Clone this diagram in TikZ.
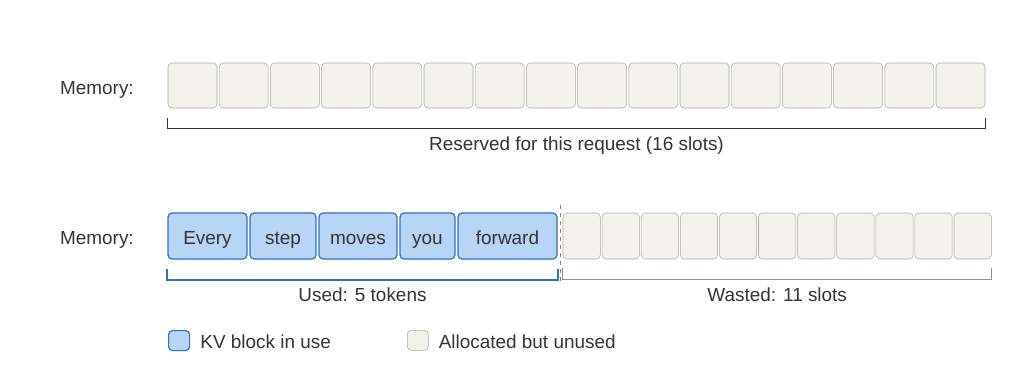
\documentclass[tikz,border=0pt]{standalone}
\usepackage{fontspec}
\setmainfont{Liberation Sans}
\usetikzlibrary{calc}
\definecolor{slotfill}{HTML}{F3F2EC}
\definecolor{slotline}{HTML}{A9A9A5}
\definecolor{usedfill}{HTML}{B8D5F5}
\definecolor{usedline}{HTML}{2F72C0}
\definecolor{inktext}{HTML}{333333}
\tikzset{
  slot/.style={draw=slotline, fill=slotfill, rounded corners=3pt, inner sep=0pt},
  tokbox/.style={draw=usedline, fill=usedfill, rounded corners=3pt, inner sep=0pt,
    line width=0.9pt},
  lbl/.style={text=inktext, font=\fontsize{14.2}{17}\selectfont, inner sep=0pt,
    text height=0.74em, text depth=0.16em},
  bracket/.style={line width=1.1pt}
}
\begin{document}
\begin{tikzpicture}[x=0.75pt, y=-0.75pt]
  \useasboundingbox (0,0) rectangle (1024,368);
  % first row: the reserved slots
  \node[lbl, anchor=east] (mem1) at (134,91) {Memory:};
  \foreach \i in {1,...,16}
  {
    \pgfmathsetmacro\cx{168+24.5+51.2*(\i-1)}
    \node[slot, minimum width=36.75pt, minimum height=33.75pt] (top\i) at (\cx,85.5) {};
  }
  \draw[bracket, color=inktext] ($(top1.south west)+(0,10)$) -- ++(0,10)
    -| ($(top16.south east)+(0,10)$);
  \node[lbl] (reserved) at ($(top1.south west)!0.5!(top16.south east)+(0,38)$)
    {Reserved for this request (16 slots)};
  % second row: tokens and wasted slots
  \node[lbl, anchor=east] (mem2) at (134,241) {Memory:};
  \foreach \l/\r/\w [count=\i] in {168/247/Every,250/316/step,319/397/moves,400/455/you,458/557/forward}
  {
    \pgfmathsetmacro\cx{(\l+\r)/2}
    \pgfmathsetmacro\bw{(\r-\l)*0.75}
    \node[tokbox, minimum width=\bw pt, minimum height=34.5pt] (tok\i) at (\cx,236) {};
    \node[lbl] (word\i) at ($(tok\i.center)+(0,5)$) {\w};
  }
  \foreach \i in {1,...,11}
  {
    \pgfmathsetmacro\cx{563+18.65+39.1*(\i-1)}
    \node[slot, minimum width=28pt, minimum height=34.5pt] (free\i) at (\cx,236) {};
  }
  \coordinate (cut top) at (560,205);
  \coordinate (cut bot) at (560,282);
  \draw[slotline!80!black, dashed, line width=0.7pt] (cut top) -- (cut bot);
  \draw[bracket, line width=1.4pt, color=usedline] ($(tok1.south west)+(0,9)$) -- ++(0,11)
    -| ($(tok5.south east)+(0,9)$);
  \draw[bracket, color=slotline!85!black] ($(free1.south west)+(0,9)$) -- ++(0,11)
    -| ($(free11.south east)+(0,9)$);
  \node[lbl] (used) at ($(tok1.south west)!0.5!(tok5.south east)+(0,38)$) {Used: 5 tokens};
  \node[lbl] (wasted) at ($(free1.south west)!0.5!(free11.south east)+(0,38)$) {Wasted: 11 slots};
  % legend
  \node[tokbox, minimum width=15.75pt, minimum height=15pt, anchor=north west] (keyused) at (168,330) {};
  \node[lbl, anchor=west] (keyusedtxt) at ($(keyused.east)+(10,4)$) {KV block in use};
  \node[slot, minimum width=15.75pt, minimum height=15pt, anchor=north west] (keyfree) at (407,330) {};
  \node[lbl, anchor=west] (keyfreetxt) at ($(keyfree.east)+(10,4)$) {Allocated but unused};
\end{tikzpicture}
\end{document}
